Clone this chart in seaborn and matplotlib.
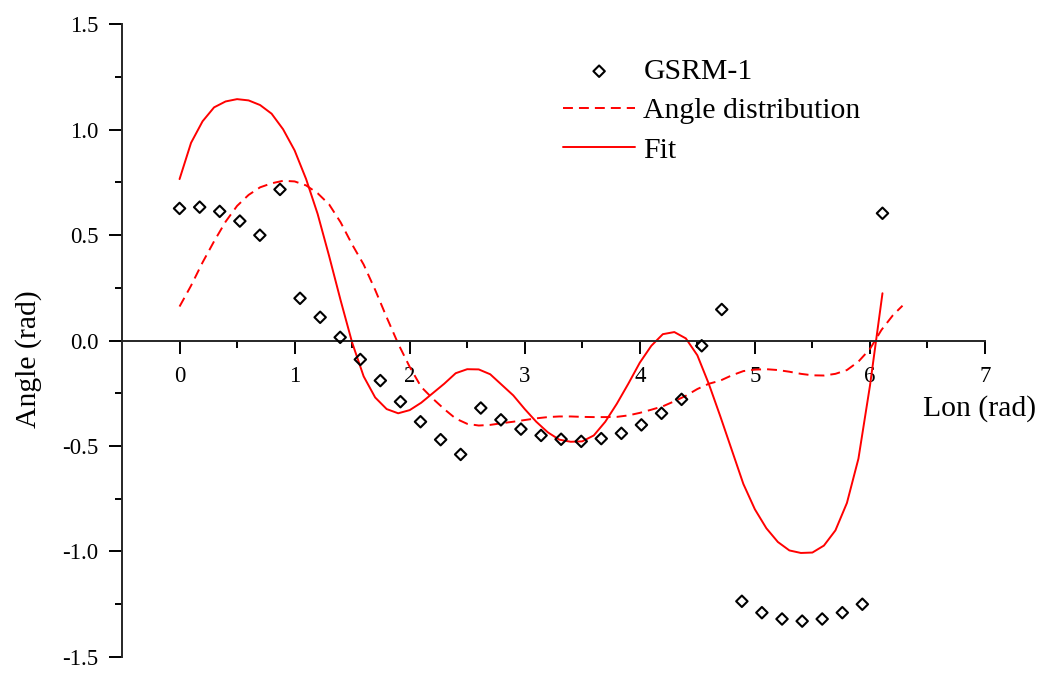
import numpy as np
import matplotlib
matplotlib.use("Agg")
import matplotlib.pyplot as plt
from matplotlib.ticker import MultipleLocator, FixedLocator
import seaborn as sns

# ---- data ----
gsrm_lon = [0.000, 0.175, 0.349, 0.524, 0.698, 0.873, 1.047, 1.222, 1.396, 1.571,
            1.745, 1.920, 2.094, 2.269, 2.443, 2.618, 2.793, 2.967, 3.142, 3.316,
            3.491, 3.665, 3.840, 4.014, 4.189, 4.363, 4.538, 4.712, 4.887, 5.061,
            5.236, 5.411, 5.585, 5.760, 5.934, 6.109]
gsrm_angle = [0.626, 0.632, 0.612, 0.566, 0.499, 0.716, 0.200, 0.110, 0.015, -0.090,
              -0.190, -0.290, -0.385, -0.470, -0.540, -0.320, -0.376, -0.420, -0.450, -0.468,
              -0.478, -0.465, -0.440, -0.400, -0.345, -0.279, -0.025, 0.147, -1.236, -1.290,
              -1.320, -1.330, -1.320, -1.290, -1.250, 0.603]

fit_lon = [0.0, 0.1, 0.2, 0.3, 0.4, 0.5, 0.6, 0.7, 0.8, 0.9,
           1.0, 1.1, 1.2, 1.3, 1.4, 1.5, 1.6, 1.7, 1.8, 1.9,
           2.0, 2.1, 2.2, 2.3, 2.4, 2.5, 2.6, 2.7, 2.8, 2.9,
           3.0, 3.1, 3.2, 3.3, 3.4, 3.5, 3.6, 3.7, 3.8, 3.9,
           4.0, 4.1, 4.2, 4.3, 4.4, 4.5, 4.6, 4.7, 4.8, 4.9,
           5.0, 5.1, 5.2, 5.3, 5.4, 5.5, 5.6, 5.7, 5.8, 5.9,
           6.0, 6.109]
fit_angle = [0.765, 0.937, 1.039, 1.105, 1.133, 1.144, 1.138, 1.116, 1.075, 1.001,
             0.901, 0.765, 0.600, 0.400, 0.190, -0.010, -0.170, -0.270, -0.325, -0.345,
             -0.330, -0.295, -0.250, -0.205, -0.155, -0.136, -0.137, -0.160, -0.210, -0.260,
             -0.325, -0.385, -0.435, -0.470, -0.480, -0.478, -0.450, -0.385, -0.300, -0.205,
             -0.105, -0.025, 0.030, 0.040, 0.010, -0.070, -0.206, -0.360, -0.520, -0.680,
             -0.800, -0.890, -0.955, -0.995, -1.007, -1.005, -0.972, -0.900, -0.770, -0.560,
             -0.215, 0.224]

dist_lon = [0.0, 0.1, 0.2, 0.3, 0.4, 0.5, 0.6, 0.7, 0.8, 0.9,
            1.0, 1.1, 1.2, 1.3, 1.4, 1.5, 1.6, 1.7, 1.8, 1.9,
            2.0, 2.1, 2.2, 2.3, 2.4, 2.5, 2.6, 2.7, 2.8, 2.9,
            3.0, 3.1, 3.2, 3.3, 3.4, 3.5, 3.6, 3.7, 3.8, 3.9,
            4.0, 4.1, 4.2, 4.3, 4.4, 4.5, 4.6, 4.7, 4.8, 4.9,
            5.0, 5.1, 5.2, 5.3, 5.4, 5.5, 5.6, 5.7, 5.8, 5.9,
            6.0, 6.1, 6.2, 6.283]
dist_angle = [0.161, 0.260, 0.370, 0.470, 0.563, 0.638, 0.690, 0.726, 0.745, 0.757,
              0.754, 0.735, 0.698, 0.645, 0.560, 0.455, 0.360, 0.240, 0.110, -0.015,
              -0.125, -0.220, -0.275, -0.325, -0.370, -0.395, -0.403, -0.400, -0.392, -0.385,
              -0.377, -0.369, -0.363, -0.360, -0.360, -0.362, -0.363, -0.363, -0.362, -0.355,
              -0.343, -0.328, -0.312, -0.288, -0.262, -0.230, -0.205, -0.190, -0.165, -0.145,
              -0.138, -0.136, -0.140, -0.148, -0.158, -0.165, -0.166, -0.158, -0.140, -0.100,
              -0.040, 0.050, 0.120, 0.165]

x_ticks = [0, 1, 2, 3, 4, 5, 6, 7]
y_ticks = [-1.5, -1.0, -0.5, 0.0, 0.5, 1.0, 1.5]
y_tick_labels = ["-1.5", "-1.0", "-0.5", "0.0", "0.5", "1.0", "1.5"]

# ---- style ----
sns.set_style("ticks")
plt.rcParams["font.family"] = ["Liberation Serif", "DejaVu Serif"]
plt.rcParams["axes.linewidth"] = 1.4

fig = plt.figure(figsize=(10.42, 6.73), dpi=100)
ax = fig.add_axes([0.1171, 0.0238, 0.9453 - 0.1171, 0.9643 - 0.0238])

red = "#FF0000"
sns.scatterplot(x=gsrm_lon, y=gsrm_angle, marker="D", s=34, facecolor="none",
                edgecolor="black", linewidth=1.5, label="GSRM-1", ax=ax, zorder=3)
sns.lineplot(x=dist_lon, y=dist_angle, sort=False, estimator=None, color=red,
             linewidth=1.4, linestyle=(0, (5.1, 3.1)), label="Angle distribution", ax=ax)
sns.lineplot(x=fit_lon, y=fit_angle, sort=False, estimator=None, color=red,
             linewidth=1.4, label="Fit", ax=ax)

ax.set_xlim(-0.5, 7)
ax.set_ylim(-1.5, 1.5)

ax.spines["top"].set_visible(False)
ax.spines["right"].set_visible(False)
ax.spines["bottom"].set_position(("data", 0))

ax.xaxis.set_major_locator(FixedLocator(x_ticks))
ax.xaxis.set_minor_locator(FixedLocator([0.5, 1.5, 2.5, 3.5, 4.5, 5.5, 6.5]))
ax.set_yticks(y_ticks)
ax.set_yticklabels(y_tick_labels)
ax.yaxis.set_minor_locator(MultipleLocator(0.25))

ax.tick_params(axis="both", which="major", length=9.4, width=1.4, labelsize=16.5,
               color="black", labelcolor="black")
ax.tick_params(axis="both", which="minor", length=5, width=1.4, color="black")
ax.tick_params(axis="x", which="major", pad=9)
ax.tick_params(axis="y", which="major", pad=7.5)

ax.set_xlabel("Lon (rad)", fontsize=21.4, color="black")
ax.xaxis.set_label_coords(0.994, 0.393)
ax.xaxis.label.set_verticalalignment("center")
ax.set_ylabel("Angle (rad)", fontsize=21.4, color="black")
ax.yaxis.set_label_coords(-0.108, 0.471)
ax.yaxis.label.set_verticalalignment("center")

leg = ax.legend(loc="upper left", bbox_to_anchor=(0.511, 0.946), frameon=False,
                fontsize=21.4, borderpad=0, borderaxespad=0, handlelength=2.43,
                handletextpad=0.27, labelspacing=0.42)
for t in leg.get_texts():
    t.set_color("black")

fig.savefig("out.png", dpi=100)
